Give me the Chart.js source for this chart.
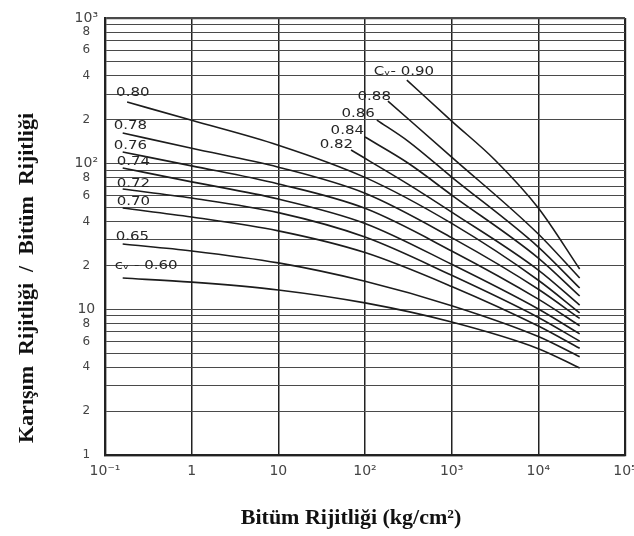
<!DOCTYPE html>
<html>
<head>
<meta charset="utf-8">
<script src="https://cdn.jsdelivr.net/npm/chart.js@4.4.1/dist/chart.umd.min.js"></script>
<style>
  html, body { margin: 0; padding: 0; background: #ffffff; }
  canvas { display: block; }
</style>
</head>
<body>
<canvas id="chart" width="634" height="536"></canvas>
<script>
// Van der Poel type nomograph: mix stiffness / bitumen stiffness vs bitumen stiffness,
// one curve per aggregate volume concentration Cv.

const cvLabels = ['cᵥ - 0.60', '0.65', '0.70', '0.72', '0.74', '0.76', '0.78', '0.80',
                  '0.82', '0.84', '0.86', '0.88', 'Cᵥ- 0.90'];

// Bitumen stiffness, kg/cm²
const sbitLow = [0.16, 1, 10, 100, 1000, 10000, 30000];
const sbit080 = [0.18, 1, 10, 100, 1000, 10000, 30000];
const sbit082 = [69, 313, 1000, 10000, 30000];
const sbit084 = [100, 313, 1000, 10000, 30000];
const sbit086 = [137, 313, 1000, 10000, 30000];
const sbit088 = [184, 1000, 10000, 30000];
const sbit090 = [304, 1000, 3160, 10000, 30000];

// Stiffness ratio (mix / bitumen)
const ratio060 = [16.4, 15.37, 13.59, 11.07, 8.18, 5.37, 3.96];
const ratio065 = [28.07, 25.16, 20.83, 15.59, 10.6, 6.51, 4.73];
const ratio070 = [49.58, 43.0, 34.58, 24.54, 14.36, 7.68, 5.4];
const ratio072 = [66.94, 58.06, 46.1, 31.35, 17.12, 8.8, 6.05];
const ratio074 = [93.28, 75.02, 57.15, 38.88, 20.37, 10.05, 6.78];
const ratio076 = [120.1, 96.6, 72.6, 49.34, 25.16, 11.75, 7.72];
const ratio078 = [162.2, 127.5, 94.6, 62.64, 31.05, 13.74, 8.66];
const ratio080 = [264.8, 198.6, 134.0, 80.5, 38.88, 15.84, 9.45];
const ratio082 = [124, 72.4, 46.5, 18.61, 10.7];
const ratio084 = [152.3, 101, 60.9, 22.5, 12.34];
const ratio086 = [199.2, 142.9, 80.9, 26.77, 14.0];
const ratio088 = [268.9, 111, 32.9, 16.4];
const ratio090 = [375, 196, 106, 49.6, 18.9];

// Axis ticks
const xTickValues = [0.1, 1, 10, 100, 1000, 10000, 100000];
const xTickLabels = ['10⁻¹', '1', '10', '10²', '10³', '10⁴', '10⁵'];
const yTickValues = [1, 2, 3, 4, 5, 6, 7, 8, 9,
                     10, 20, 30, 40, 50, 60, 70, 80, 90,
                     100, 200, 300, 400, 500, 600, 700, 800, 900, 1000];
const yLabelValues = [1, 2, 4, 6, 8, 10, 20, 40, 60, 80, 100, 200, 400, 600, 800, 1000];
const yTickLabels = ['1', '2', '4', '6', '8', '10', '2', '4', '6', '8', '10²', '2', '4', '6', '8', '10³'];

const xTitle = 'Bitüm Rijitliği (kg/cm²)';
const yTitle = 'Karışım  Rijitliği  /  Bitüm  Rijitliği';

const curves = [
  [sbitLow, ratio060], [sbitLow, ratio065], [sbitLow, ratio070], [sbitLow, ratio072],
  [sbitLow, ratio074], [sbitLow, ratio076], [sbitLow, ratio078], [sbit080, ratio080],
  [sbit082, ratio082], [sbit084, ratio084], [sbit086, ratio086], [sbit088, ratio088],
  [sbit090, ratio090]
];

// where each curve's caption sits relative to the curve's first point
const labelPlacement = [
  { dx: -8, dy: -12, align: 'left' },
  { dx: -7, dy: -7, align: 'left' },
  { dx: -6, dy: -6, align: 'left' },
  { dx: -6, dy: -5, align: 'left' },
  { dx: -6, dy: -6, align: 'left' },
  { dx: -9, dy: -6, align: 'left' },
  { dx: -9, dy: -7, align: 'left' },
  { dx: -11, dy: -9, align: 'left' },
  { dx: 2, dy: -5, align: 'right' },
  { dx: -1, dy: -6, align: 'right' },
  { dx: -2, dy: -6, align: 'right' },
  { dx: 3, dy: -4, align: 'right' },
  { dx: -33, dy: -8, align: 'left' }
];

const yLabelMap = new Map(yLabelValues.map((v, i) => [v, yTickLabels[i]]));
const xLabelMap = new Map(xTickValues.map((v, i) => [v, xTickLabels[i]]));

const captions = {
  id: 'captions',
  afterDatasetsDraw(chart) {
    const { ctx } = chart;
    ctx.save();
    ctx.fillStyle = '#262626';
    ctx.font = '12px "DejaVu Sans"';
    ctx.textBaseline = 'middle';
    chart.data.datasets.forEach((ds, i) => {
      const p = chart.getDatasetMeta(i).data[0];
      const o = labelPlacement[i];
      ctx.save();
      ctx.translate(p.x + o.dx, p.y + o.dy);
      ctx.scale(1.25, 1);
      ctx.textAlign = o.align;
      ctx.fillText(cvLabels[i], 0, 0);
      ctx.restore();
    });

    ctx.fillStyle = '#111111';
    ctx.font = 'bold 22px "Liberation Serif"';
    ctx.textAlign = 'center';
    ctx.fillText(xTitle, 351, 518);
    ctx.translate(27, 278);
    ctx.rotate(-Math.PI / 2);
    ctx.fillText(yTitle, 0, 0);
    ctx.restore();
  }
};

new Chart(document.getElementById('chart'), {
  type: 'scatter',
  data: {
    datasets: curves.map(([xs, ys], i) => ({
      label: 'Cv ' + cvLabels[i],
      data: xs.map((x, k) => ({ x: x, y: ys[k] })),
      showLine: true,
      borderColor: '#1c1c1c',
      borderWidth: 1.6,
      pointRadius: 0,
      cubicInterpolationMode: 'monotone',
      fill: false
    }))
  },
  options: {
    responsive: false,
    animation: false,
    devicePixelRatio: 1,
    layout: { padding: { left: 0, top: 18, right: 9, bottom: 0 } },
    plugins: { legend: { display: false }, tooltip: { enabled: false } },
    scales: {
      x: {
        type: 'logarithmic',
        position: 'bottom',
        min: 0.1,
        max: 100000,
        afterBuildTicks: s => { s.ticks = xTickValues.map(v => ({ value: v })); },
        afterFit: s => { s.height = 81; s.paddingLeft = 0; s.paddingRight = 0; },
        ticks: {
          autoSkip: false,
          maxRotation: 0,
          padding: 8,
          color: '#444444',
          font: { family: 'DejaVu Sans', size: 14 },
          callback: v => xLabelMap.get(v) ?? ''
        },
        grid: {
          drawTicks: false,
          color: '#222222',
          lineWidth: c => (c.tick && (c.tick.value === 0.1 || c.tick.value === 100000)) ? 2.2 : 1.5
        },
        border: { display: true, color: '#222222', width: 2.2 }
      },
      y: {
        type: 'logarithmic',
        position: 'left',
        min: 1,
        max: 1000,
        afterBuildTicks: s => { s.ticks = yTickValues.map(v => ({ value: v })); },
        afterFit: s => { s.width = 105; s.paddingTop = 0; s.paddingBottom = 0; },
        ticks: {
          autoSkip: false,
          crossAlign: 'center',
          padding: 7,
          color: '#444444',
          font: c => ({ family: 'DejaVu Sans', size: (c.tick && (c.tick.value === 10 || c.tick.value === 100 || c.tick.value === 1000)) ? 14 : 12 }),
          callback: v => yLabelMap.get(v) ?? ''
        },
        grid: {
          drawTicks: false,
          color: '#4a4a4a',
          lineWidth: c => (c.tick && (c.tick.value === 1 || c.tick.value === 1000)) ? 2.2 : 1
        },
        border: { display: true, color: '#222222', width: 2.2 }
      }
    }
  },
  plugins: [captions]
});
</script>
</body>
</html>
